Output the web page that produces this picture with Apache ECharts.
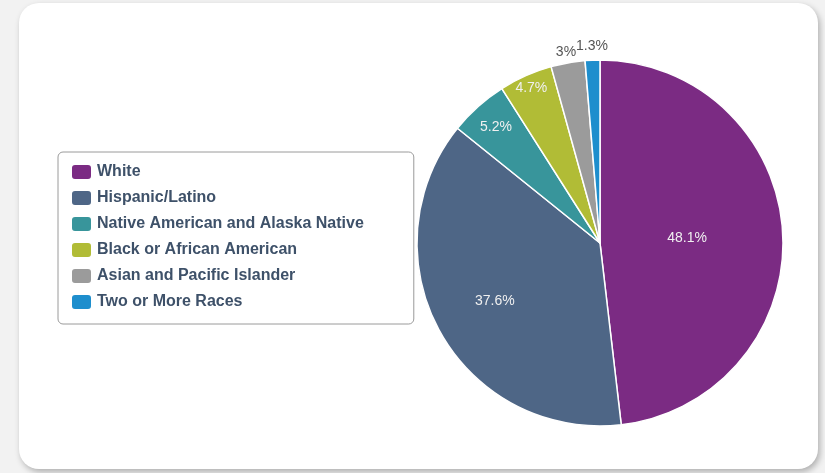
<!DOCTYPE html>
<html>
<head>
<meta charset="utf-8">
<script src="https://cdn.jsdelivr.net/npm/echarts@6/dist/echarts.min.js"></script>
<style>
  html, body { margin: 0; padding: 0; background: #f2f2f2; }
  .card {
    position: absolute; left: 19px; top: 3px; width: 799px; height: 466px;
    background: #fff; border-radius: 20px;
    box-shadow: 2px 3px 6px rgba(0,0,0,0.28);
  }
  #chart { position: absolute; left: 0; top: 0; width: 825px; height: 473px; }
</style>
</head>
<body>
<div class="card"></div>
<div id="chart"></div>
<script>
// data
const categories = ['White', 'Hispanic/Latino', 'Native American and Alaska Native',
  'Black or African American', 'Asian and Pacific Islander', 'Two or More Races'];
const values = [48.1, 37.6, 5.2, 4.7, 3, 1.3];
const colors = ['#7b2b83', '#4e6686', '#38959b', '#b1bc36', '#9b9b9b', '#1e8ecd'];

const center = [600, 243];
const R = 183;
// where each label sits, as a fraction of the radius
const labelRadius = [0.46, 0.64, 0.836, 0.907, 1.045, 1.06];

let chart = echarts.init(document.getElementById('chart'));

// one transparent ring per label, so every label can sit at its own distance
const labelSeries = values.map((v0, k) => {
  const rad = labelRadius[k] * R;
  const outside = labelRadius[k] > 1;
  return {
    type: 'pie', silent: true, center: center, startAngle: 90, clockwise: true,
    radius: [rad - 10, rad + 10],
    avoidLabelOverlap: false,
    itemStyle: { color: 'transparent', borderWidth: 0 },
    labelLine: { show: false }, emphasis: { disabled: true },
    legendHoverLink: false, animation: false,
    label: {
      position: 'inside',
      color: outside ? '#555' : '#f0f0f0',
      fontSize: 14,
      fontFamily: 'Liberation Sans',
      formatter: p => p.value + '%'
    },
    data: values.map((v, i) => ({ name: categories[i], value: v, label: { show: i === k } }))
  };
});

const option = {
  color: colors,
  legend: {
    orient: 'vertical',
    left: 58, top: 152,
    padding: [11, 50, 13, 12],
    itemWidth: 21, itemHeight: 16, itemGap: 8,
    borderColor: '#9a9a9a', borderWidth: 1, borderRadius: 5,
    icon: 'roundRect',
    textStyle: { color: '#3e5169', fontWeight: 'bold', fontSize: 16, fontFamily: 'Liberation Sans' },
    data: categories
  },
  series: [
    {
      type: 'pie', name: 'main', center: center, radius: [0, R],
      startAngle: 90, clockwise: true, animation: false,
      itemStyle: { borderColor: '#fff', borderWidth: 1.5 },
      label: { show: false }, labelLine: { show: false },
      data: values.map((v, i) => ({ name: categories[i], value: v }))
    }
  ].concat(labelSeries)
};

chart.setOption(option);
</script>
</body>
</html>
